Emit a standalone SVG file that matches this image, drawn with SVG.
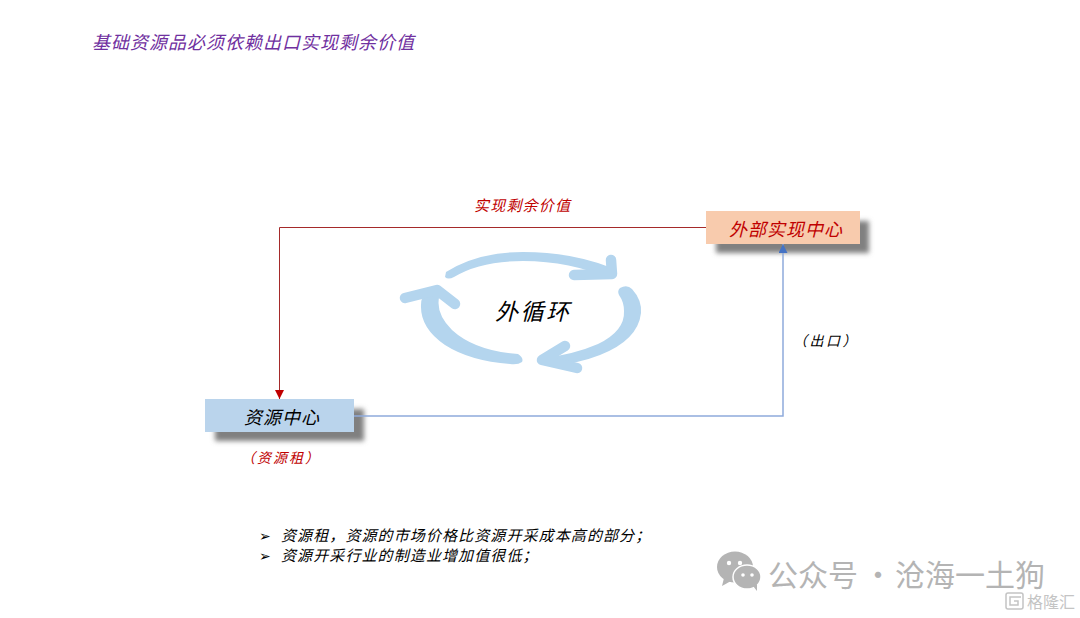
<svg xmlns="http://www.w3.org/2000/svg" width="1080" height="618" viewBox="0 0 1080 618">
<style>
text{font-family:"Noto Sans CJK SC","Noto Sans CJK JP",sans-serif;font-style:italic;font-weight:400}
.t{fill:#000}
.r{fill:#C00000}
.ring{fill:#B4D5EE}
.head{fill:none;stroke:#B4D5EE;stroke-width:10.500;stroke-linecap:round;stroke-linejoin:round}
.wm{font-style:normal;font-weight:400;fill:#B4B4B4}
</style>
<defs>
<filter id="blur" x="-10%" y="-40%" width="120%" height="180%"><feGaussianBlur stdDeviation="2.500"/></filter>
<marker id="ah-red" markerWidth="10" markerHeight="10" refX="9" refY="4.500" orient="auto" markerUnits="userSpaceOnUse"><path d="M0,0L9,4.500L0,9Z" fill="#C00000"/></marker>
<marker id="ah-blue" markerWidth="10" markerHeight="10" refX="9" refY="4.500" orient="auto" markerUnits="userSpaceOnUse"><path d="M0,0L9,4.500L0,9Z" fill="#4472C4"/></marker>
</defs>
<rect width="1080" height="618" fill="#fff"/>
<text id="title" x="92" y="49" font-size="18" letter-spacing="1" fill="#7030A0">基础资源品必须依赖出口实现剩余价值</text>

<g id="node-external">
<rect x="716" y="221" width="153" height="32" fill="#808080" filter="url(#blur)"/>
<rect x="706" y="211" width="154" height="33" fill="#F8CBAD"/>
<text x="729" y="236" font-size="18" letter-spacing="1" class="r">外部实现中心</text>
</g>
<g id="node-resource">
<rect x="215" y="409" width="149" height="32" fill="#808080" filter="url(#blur)"/>
<rect x="205" y="399" width="149" height="33" fill="#BAD4EC"/>
<text x="244" y="424" font-size="18" letter-spacing="1" class="t">资源中心</text>
</g>

<g id="connectors" fill="none">
<path d="M706,227.500H279.500V399" stroke="#A52A2A" stroke-width="1" marker-end="url(#ah-red)"/>
<path d="M354,416H783V244" stroke="#8FAADC" stroke-width="1.500" marker-end="url(#ah-blue)"/>
</g>

<g id="cycle">
<path class="ring" d="M446,272Q478,252 523,252Q572,252 612,268L611,279Q570,261 523,261Q480,261 454,277Q448,280 445,277Z"/>
<path class="head" d="M574,275L612,274L611,260"/>
<path class="ring" d="M620,288Q627,284 632,289Q642,300 641,313Q638,340 600,355Q575,365 546,366L544,358Q575,354 598,344Q625,331 624,311Q624,302 619,295Q617,291 620,288Z"/>
<path class="head" d="M565,346L542,360L577,368"/>
<path class="ring" d="M518,354Q524,358 522,362Q518,365 510,364Q470,361 445,345Q420,328 421,305Q421,296 428,288L440,294Q434,312 452,330Q475,351 518,354Z"/>
<path class="head" d="M405,298L437,290L455,304"/>
<text x="495" y="320" font-size="23" letter-spacing="2.500" class="t">外循环</text>
</g>

<text id="label-surplus" x="474" y="211" font-size="15" letter-spacing="1.200" class="r">实现剩余价值</text>
<text id="label-export" x="793" y="346" font-size="14" letter-spacing="2.500" class="t">（出口）</text>
<text id="label-rent" x="241" y="463" font-size="14" letter-spacing="2" class="r">（资源租）</text>

<g id="notes" font-size="15" class="t">
<text x="259" y="541" font-size="14" style="font-family:'DejaVu Sans',sans-serif;font-style:normal">➢</text>
<text x="281" y="541" letter-spacing="1.100">资源租，资源的市场价格比资源开采成本高的部分；</text>
<text x="259" y="561" font-size="14" style="font-family:'DejaVu Sans',sans-serif;font-style:normal">➢</text>
<text x="281" y="561" letter-spacing="1.100">资源开采行业的制造业增加值很低；</text>
</g>

<g id="watermark">
<ellipse cx="735" cy="567" rx="18" ry="15.500" fill="#B4B4B4"/>
<path d="M724,578l-2,8l9,-5z" fill="#B4B4B4"/>
<ellipse cx="747" cy="577" rx="14" ry="12" fill="#B4B4B4" stroke="#fff" stroke-width="1.500"/>
<path d="M753,586l4,5l0,-7z" fill="#B4B4B4"/>
<circle cx="729" cy="563" r="2.200" fill="#fff"/><circle cx="740" cy="563" r="2.200" fill="#fff"/>
<circle cx="743" cy="575" r="1.800" fill="#fff"/><circle cx="752" cy="575" r="1.800" fill="#fff"/>
<text y="586" font-size="30" class="wm"><tspan x="768">公众号</tspan><tspan x="863">·</tspan><tspan x="895">沧海一土狗</tspan></text>
<rect x="1006" y="593" width="17" height="16" rx="2" fill="none" stroke="#C4C4C4" stroke-width="1.500"/>
<path d="M1021,597h-11v8h8v-4h-4" fill="none" stroke="#C4C4C4" stroke-width="1.500"/>
<text x="1027" y="608" font-size="16" class="wm" style="fill:#C4C4C4">格隆汇</text>
</g>
</svg>
